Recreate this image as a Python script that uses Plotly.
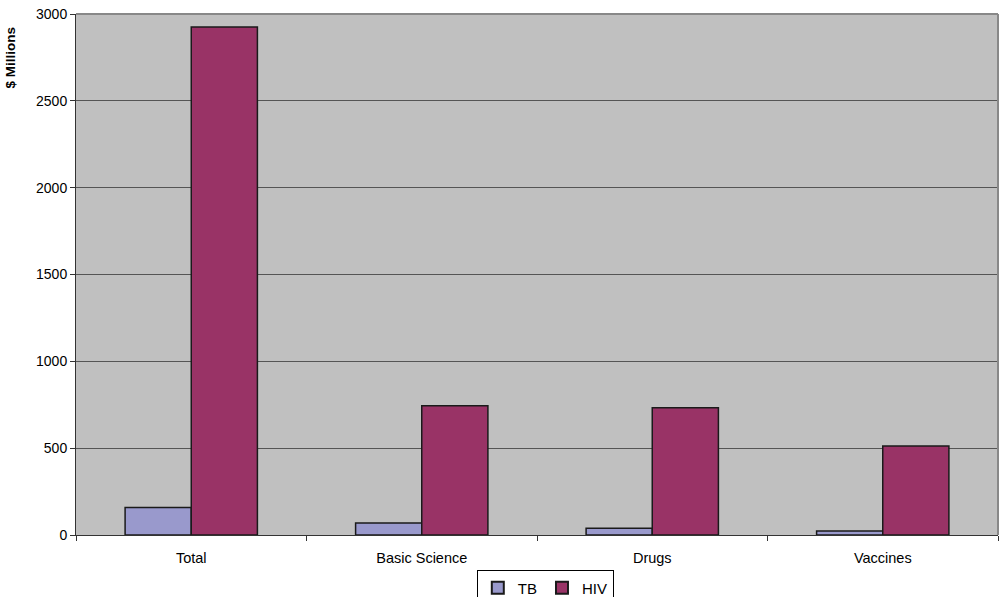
import plotly.graph_objects as go

categories = ["Total", "Basic Science", "Drugs", "Vaccines"]
tb_values = [158, 69, 39, 23]
hiv_values = [2925, 744, 733, 512]
y_ticks = [0, 500, 1000, 1500, 2000, 2500, 3000]

fig = go.Figure()
fig.add_trace(go.Bar(name="TB", x=categories, y=tb_values,
                     marker=dict(color="#9999CC", line=dict(color="#1a1a1a", width=1.5))))
fig.add_trace(go.Bar(name="HIV", x=categories, y=hiv_values,
                     marker=dict(color="#993366", line=dict(color="#1a1a1a", width=1.5))))

fig.update_layout(
    width=999, height=597,
    barmode="group", bargap=0.426, bargroupgap=0,
    plot_bgcolor="#C0C0C0", paper_bgcolor="white",
    margin=dict(l=76, r=1, t=14, b=62, autoexpand=False),
    font=dict(family="Liberation Sans, Arial, sans-serif", size=12, color="black"),
    legend=dict(orientation="h", x=0.509, xanchor="center", y=-0.068, yanchor="top",
                bordercolor="black", borderwidth=1, font=dict(size=15),
                itemwidth=30, tracegroupgap=0, itemsizing="constant"),
    showlegend=True,
)
fig.update_xaxes(showgrid=False, showline=True, linecolor="#333333", linewidth=1,
                 ticks="outside", tickson="boundaries", ticklen=5, tickcolor="#333333",
                 tickfont=dict(size=14.5), ticklabelstandoff=10)
fig.update_yaxes(range=[0, 3000], tickvals=y_ticks, showgrid=True, gridcolor="#555555",
                 gridwidth=1, showline=True, linecolor="#333333", linewidth=1,
                 ticks="outside", ticklen=5, tickcolor="#333333", zeroline=False,
                 tickfont=dict(size=14))
fig.add_annotation(text="<b>$ Millions</b>", xref="paper", yref="paper",
                   x=-56/922, y=0.979, xanchor="right", yanchor="top",
                   textangle=-90, showarrow=False, font=dict(size=13.5))
fig.add_shape(type="line", xref="paper", yref="paper", x0=0, x1=1, y0=1, y1=1,
              line=dict(color="#888888", width=2))
fig.add_shape(type="line", xref="paper", yref="paper", x0=1, x1=1, y0=0, y1=1,
              line=dict(color="#888888", width=2))

fig.write_html("out.html")
